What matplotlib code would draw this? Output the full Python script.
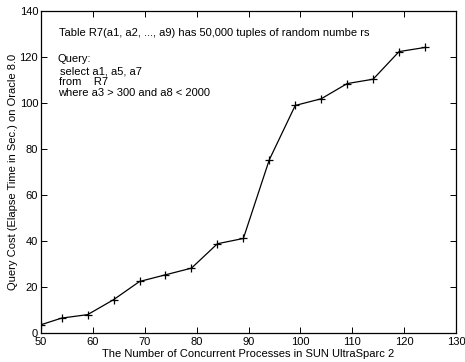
import matplotlib
matplotlib.use("Agg")
import matplotlib.pyplot as plt

# data
procs = [50, 54, 59, 64, 69, 74, 79, 84, 89, 94, 99, 104, 109, 114, 119, 124]
cost = [3.6, 6.5, 8.0, 14.5, 22.4, 25.3, 28.2, 38.8, 41.1, 75.3, 98.9, 101.8, 108.4, 110.3, 122.3, 124.1]
xticks = [50, 60, 70, 80, 90, 100, 110, 120, 130]
yticks = [0, 20, 40, 60, 80, 100, 120, 140]

plt.rcParams['font.family'] = ['Liberation Sans', 'DejaVu Sans']
fs = 8

fig = plt.figure(figsize=(4.65, 3.62), dpi=100)
ax = fig.add_axes([0.088, 0.080, 0.893, 0.890])

# line with plus markers
ax.plot(procs, cost, color='black', linewidth=0.9, marker='+', markersize=5.5, markeredgewidth=0.9)

ax.set_xlim(50, 130)
ax.set_ylim(0, 140)
ax.set_xticks(xticks)
ax.set_yticks(yticks)
ax.tick_params(direction='in', top=True, right=True, labelsize=fs, length=4, width=0.7, pad=2)
ax.tick_params(axis='x', pad=2.5)
for s in ax.spines.values():
    s.set_linewidth(0.9)

ax.set_xlabel('The Number of Concurrent Processes in SUN UltraSparc 2', fontsize=fs, labelpad=1.5)
ax.set_ylabel('Query Cost (Elapse Time in Sec.) on Oracle 8.0', fontsize=fs, labelpad=1)

# annotations
ax.text(53.5, 130.4, 'Table R7(a1, a2, ..., a9) has 50,000 tuples of random numbe rs', fontsize=fs, va='center')
ax.text(53.2, 119.0, 'Query:', fontsize=fs, va='center')
ax.text(53.7, 113.6, 'select a1, a5, a7', fontsize=fs, va='center')
ax.text(53.5, 109.0, 'from    R7', fontsize=fs, va='center')
ax.text(53.3, 104.3, 'where a3 > 300 and a8 < 2000', fontsize=fs, va='center')

fig.savefig('out.png', dpi=100)
